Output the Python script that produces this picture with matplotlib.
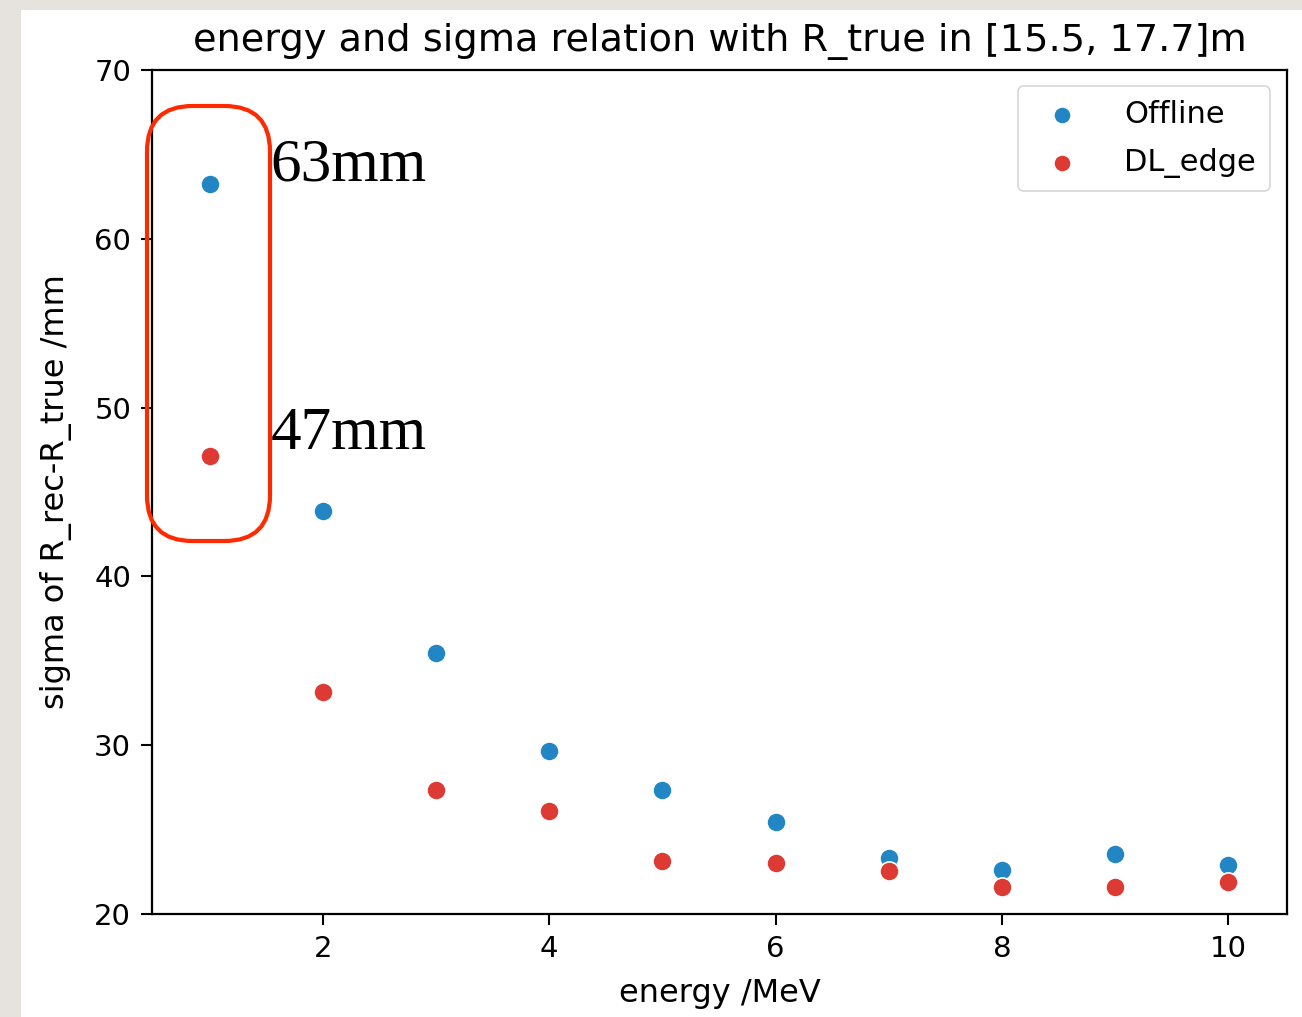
import numpy as np
import matplotlib
matplotlib.use('Agg')
import matplotlib.pyplot as plt
from matplotlib.patches import FancyBboxPatch, Rectangle

# data
energy = [1, 2, 3, 4, 5, 6, 7, 8, 9, 10]
sigma_offline = [63.25, 43.87, 35.46, 29.66, 27.35, 25.45, 23.32, 22.61, 23.54, 22.89]
sigma_dl_edge = [47.13, 33.15, 27.35, 26.10, 23.14, 23.02, 22.55, 21.62, 21.62, 21.92]
series_names = ['Offline', 'DL_edge']
notes = ['63mm', '47mm']

W, H = 1302, 1017
fig = plt.figure(figsize=(W / 100, H / 100), dpi=100)
fig.patch.set_facecolor('#e6e3df')

# white "screenshot" area on the textured page
fig.patches.append(Rectangle((21 / W, 0), 1 - 21 / W, 1 - 10 / H, transform=fig.transFigure,
                             facecolor='white', edgecolor='none', zorder=-5))

ax = fig.add_axes([152 / W, 1 - 914 / H, (1287 - 152) / W, (914 - 70) / H])
ax.scatter(energy, sigma_offline, s=190, color='#2386c4', edgecolor='white', linewidth=1.2,
           label=series_names[0], zorder=3)
ax.scatter(energy, sigma_dl_edge, s=190, color='#dd3a33', edgecolor='white', linewidth=1.2,
           label=series_names[1], zorder=3)

ax.set_xlim(0.49, 10.52)
ax.set_ylim(20, 70)
ax.set_xticks([2, 4, 6, 8, 10])
ax.set_yticks([20, 30, 40, 50, 60, 70])
ax.tick_params(labelsize=21, length=8, width=1.5, pad=7)
for sp in ax.spines.values():
    sp.set_linewidth(1.6)

ax.set_xlabel('energy /MeV', fontsize=23, labelpad=11)
ax.set_ylabel('sigma of R_rec-R_true /mm', fontsize=23, labelpad=16)
ax.set_title('energy and sigma relation with R_true in [15.5, 17.7]m', fontsize=27.5, pad=14)

leg = ax.legend(loc='upper right', fontsize=22, handletextpad=1.05, borderpad=0.45,
                markerscale=0.9, labelspacing=0.62, borderaxespad=0,
                bbox_to_anchor=(0.985, 0.981))
leg.get_frame().set_linewidth(1.2)

# highlight box and notes
ax.text(1.54, sigma_offline[0] + 1.1, notes[0], fontsize=44, family='Liberation Serif', va='center')
ax.text(1.54, sigma_dl_edge[0] + 1.3, notes[1], fontsize=44, family='Liberation Serif', va='center')

x0, x1, y0, y1 = 147 / W, 270 / W, 1 - 541 / H, 1 - 106 / H
box = FancyBboxPatch((x0, y0), x1 - x0, y1 - y0, boxstyle='round,pad=0,rounding_size=0.035',
                     mutation_aspect=W / H, transform=fig.transFigure,
                     facecolor='none', edgecolor='#ff2a00', linewidth=3.0, zorder=5)
fig.patches.append(box)

plt.savefig('out.png', dpi=100, facecolor=fig.get_facecolor())
